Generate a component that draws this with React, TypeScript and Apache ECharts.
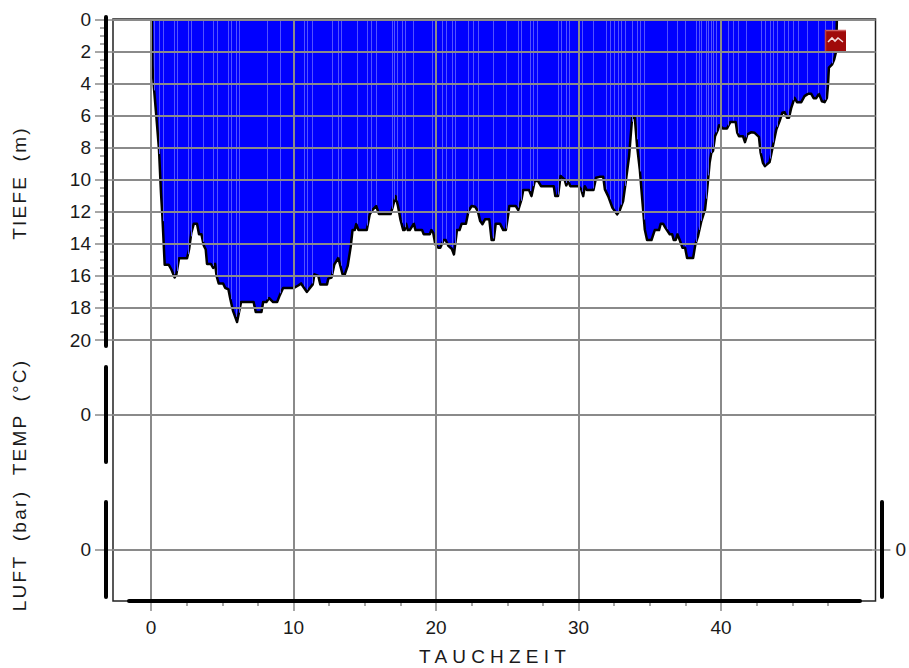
import React, { useEffect, useRef } from "react";
import * as echarts from "echarts";

const times = [0.05,0.1,0.2,0.37,0.56,0.7,0.8,0.96,1.24,1.43,1.66,1.78,1.97,2.53,2.67,2.83,3.0,3.23,3.37,3.54,3.7,3.84,3.93,4.2,4.36,4.5,4.6,4.75,5.06,5.2,5.43,5.57,5.76,6.04,6.32,7.2,7.35,7.75,7.87,8.1,8.29,8.57,8.85,9.04,9.27,10,10.33,10.53,10.93,11.35,11.47,11.74,11.88,12.35,12.44,12.67,12.86,13.14,13.44,13.6,13.8,14.02,14.14,14.3,14.4,14.56,15.14,15.35,15.53,15.8,16,16.81,16.98,17.16,17.33,17.5,17.7,17.8,17.9,18.02,18.16,18.44,18.56,19.02,19.14,19.56,19.67,19.8,19.95,20.16,20.3,20.53,20.67,20.88,21.1,21.26,21.47,21.65,21.8,22.1,22.28,22.5,22.74,22.93,23.1,23.26,23.44,23.74,23.9,24.05,24.19,24.49,24.72,24.9,25.07,25.14,25.6,25.77,26,26.12,26.53,26.7,26.93,27.16,27.37,28.26,28.37,28.56,28.74,29.02,29.14,29.28,29.42,30,30.19,30.33,30.44,30.58,31.05,31.23,31.47,31.73,31.85,32.08,32.38,32.71,32.9,33.13,33.32,33.55,33.76,33.95,34.11,34.3,34.53,34.65,34.81,35.12,35.35,35.65,35.77,35.93,36.1,36.4,36.57,36.68,36.82,36.94,37.1,37.29,37.48,37.62,38.04,38.2,38.39,38.62,38.88,39.02,39.2,39.32,39.44,39.58,39.79,39.86,40.14,40.42,40.65,41.03,41.14,41.26,41.54,41.68,41.85,42.13,42.36,42.66,42.78,42.94,43.08,43.41,43.64,43.88,44.11,44.3,44.46,44.63,44.77,44.93,45.16,45.33,45.63,45.86,46.1,46.33,46.5,46.68,46.87,47.08,47.27,47.43,47.5,47.57,47.8,47.94,48.08,48.13];
const depths = [0,2.9,4.2,6.0,8.1,10.8,12.3,15.3,15.3,15.6,16.1,15.9,14.9,14.9,14.35,13.3,12.75,12.75,13.4,13.4,14.1,14.35,15.25,15.25,15.5,15.25,16.0,16.47,16.47,16.74,16.84,17.46,18.2,18.88,17.63,17.63,18.25,18.25,17.63,17.63,17.38,17.63,17.63,17.2,16.76,16.76,16.6,16.47,17.0,16.53,15.9,16.0,16.53,16.53,16.17,16.1,15.3,14.87,15.9,15.9,15.38,14.14,13.14,13.14,12.77,13.14,13.14,12.16,11.9,11.64,12.14,12.14,11.64,11.02,11.64,12.47,13.14,13.14,12.74,13.14,13.14,12.74,13.14,13.14,13.4,13.4,13.14,13.3,14.03,14.24,14.24,13.76,13.76,14.14,14.3,14.66,13.14,13.14,12.74,12.74,11.95,11.64,11.68,11.95,12.58,12.77,12.47,12.47,13.76,13.76,12.74,12.74,13.14,13.14,12.16,11.64,11.64,11.9,11.23,10.64,10.64,11.02,10.08,10.08,10.4,10.4,11.02,11.02,9.77,9.98,10.35,10.08,10.4,10.4,10.6,11.02,10.4,10.64,10.64,9.88,9.82,9.81,10.6,11.02,11.75,12.16,11.9,11.33,10.08,8.52,6.13,6.13,7.9,9.36,11.85,13.1,13.76,13.76,13.14,13.14,12.74,12.74,13.0,13.4,13.4,13.76,13.76,13.4,13.76,14.24,14.24,14.89,14.89,14.03,13.5,12.58,11.85,10.7,8.94,8.32,8.2,7.28,6.86,6.6,6.8,6.8,6.4,6.4,7.07,7.28,7.28,7.65,7.17,7.03,7.07,7.32,8.32,8.94,9.15,8.9,7.9,6.86,6.34,5.82,5.78,6.13,6.13,5.51,4.89,5.16,5.16,4.78,4.64,4.64,4.91,4.91,4.64,5.1,5.16,4.89,4.16,3.01,2.8,2.5,1.98,0];
const stripeTimes = [0.23,0.58,0.82,1.61,1.8,2.57,2.78,3.67,4.37,4.61,5.38,5.59,5.94,6.15,8.16,9.05,10.74,10.97,11.32,12.7,13.1,13.31,14.43,15.18,15.41,15.77,16.89,17.07,17.26,17.59,17.82,18.41,19.7,20.4,20.68,21.1,21.33,22.22,22.62,22.97,24.03,24.89,25.73,25.94,26.6,26.83,27.11,28.54,28.77,29.12,29.35,30.27,31.04,31.9,32.2,32.49,32.77,33.0,33.26,33.73,34.08,34.32,34.6,36.23,36.93,37.47,38.22,38.46,38.6,38.95,39.11,39.3,39.46,39.65,40.47,40.86,41.21,41.75,42.81,43.09,43.44,43.67,43.91,44.42,44.72,45.07,45.42,46.05,46.83,47.3,47.77];
const xMajorTicks = [0,10,20,30,40];
const xMinorTicks = [2.5,5,7.5,12.5,15,17.5,22.5,25,27.5,32.5,35,37.5,42.5,45,47.5];
const zeroTick = [0];

const X_MIN = -2.667;
const X_MAX = 50.84;
const GRID_L = 113;
const GRID_W = 762.5;
const GRAY = "#8a8a8a";
const FONT = "Liberation Sans";
const LABEL_SIZE = 19;

function depthAt(t: number): number {
  for (let i = 1; i < times.length; i++) {
    if (t <= times[i]) {
      const f = (t - times[i - 1]) / (times[i] - times[i - 1]);
      return depths[i - 1] + f * (depths[i] - depths[i - 1]);
    }
  }
  return 0;
}

const hiddenX = (gridIndex: number) => ({ type: "value", gridIndex, min: X_MIN, max: X_MAX, show: false });
const hiddenY = (gridIndex: number) => ({ type: "value", gridIndex, min: -1, max: 1, show: false });
const thickLine = { show: true, onZero: false, lineStyle: { color: "#000", width: 4, cap: "round" } };
const noLine = { show: false, onZero: false };

const blockGrid = (top: number, height: number) => ({ left: GRID_L, width: GRID_W, top, height, show: false });

const zeroAxis = (gridIndex: number, position: string) => ({
  type: "value", gridIndex, position, min: -1, max: 1, z: 4,
  axisLine: noLine,
  axisTick: { show: true, length: 18, customValues: zeroTick, lineStyle: { color: GRAY, width: 1.5 } },
  axisLabel: { show: true, customValues: zeroTick, margin: position === "left" ? 22 : 23, color: "#1a1a1a", fontSize: LABEL_SIZE, fontFamily: FONT },
  splitLine: { show: position === "left", lineStyle: { color: GRAY, width: 2 } },
});
const lineAxis = (gridIndex: number, position: string) => ({
  type: "value", gridIndex, position, min: -1, max: 1, offset: position === "left" ? 7.5 : 9, z: 5,
  axisLine: thickLine,
  axisTick: { show: false }, axisLabel: { show: false }, splitLine: { show: false },
});

const titleFont = `19px '${FONT}'`;

const option: any = {
  animation: false,
  backgroundColor: "#fff",
  grid: [
    { left: GRID_L, width: GRID_W, top: 19.5, height: 320.5, show: false },
    { left: GRID_L, width: GRID_W, top: 19, height: 582, show: true, borderColor: "#222", borderWidth: 1.5, z: 1 },
    { left: 129, width: 731, top: 19, height: 582, show: false },
    blockGrid(17, 329),
    blockGrid(367, 95),
    blockGrid(502, 95),
  ],
  xAxis: [
    hiddenX(0),
    {
      type: "value", gridIndex: 1, position: "bottom", min: X_MIN, max: X_MAX, z: 4,
      axisLine: noLine,
      axisTick: { show: true, length: 10, customValues: xMajorTicks, lineStyle: { color: GRAY, width: 1.5 } },
      axisLabel: { show: true, customValues: xMajorTicks, margin: 17, color: "#1a1a1a", fontSize: LABEL_SIZE, fontFamily: FONT },
      splitLine: { show: true, lineStyle: { color: GRAY, width: 2 } },
    },
    {
      type: "value", gridIndex: 1, position: "bottom", min: X_MIN, max: X_MAX, z: 4,
      axisLine: noLine,
      axisTick: { show: true, length: 5, customValues: xMinorTicks, lineStyle: { color: GRAY, width: 1.5 } },
      axisLabel: { show: false }, splitLine: { show: false },
    },
    {
      type: "value", gridIndex: 2, position: "bottom", min: 0, max: 1, z: 5,
      axisLine: { show: true, onZero: false, lineStyle: { color: "#000", width: 4 } },
      axisTick: { show: false }, axisLabel: { show: false }, splitLine: { show: false },
    },
    hiddenX(3), hiddenX(4), hiddenX(5),
  ],
  yAxis: [
    {
      type: "value", gridIndex: 0, position: "left", min: 0, max: 20, interval: 2, inverse: true, z: 4,
      axisLine: noLine,
      axisTick: { show: true, length: 18, lineStyle: { color: GRAY, width: 1.5 } },
      axisLabel: { show: true, margin: 22, color: "#1a1a1a", fontSize: LABEL_SIZE, fontFamily: FONT },
      splitLine: { show: true, lineStyle: { color: GRAY, width: 2 } },
    },
    {
      type: "value", gridIndex: 0, position: "left", min: 0, max: 20, interval: 2, inverse: true, offset: 8, z: 4,
      axisLine: noLine,
      axisTick: { show: false },
      minorTick: { show: true, splitNumber: 4, length: 5, lineStyle: { color: GRAY, width: 1.5 } },
      axisLabel: { show: false }, splitLine: { show: false },
    },
    hiddenY(1),
    hiddenY(2),
    lineAxis(3, "left"),
    zeroAxis(4, "left"),
    lineAxis(4, "left"),
    zeroAxis(5, "left"),
    lineAxis(5, "left"),
    zeroAxis(5, "right"),
    lineAxis(5, "right"),
  ],
  series: [
    {
      type: "line", xAxisIndex: 0, yAxisIndex: 0, z: 2, symbol: "none", silent: true, clip: false,
      data: times.map((t, i) => [t, depths[i]]),
      lineStyle: { color: "#000", width: 2.5, join: "round" },
      areaStyle: { color: "#0000ff", opacity: 1 },
    },
    {
      type: "custom", xAxisIndex: 0, yAxisIndex: 0, z: 3, silent: true,
      data: stripeTimes.map((t) => [t]),
      encode: { x: 0 },
      renderItem: (_p: any, api: any) => {
        const t = api.value(0);
        const a = api.coord([t, 0]);
        const b = api.coord([t, depthAt(t)]);
        const x = Math.round(a[0]) + 0.5;
        return {
          type: "line",
          shape: { x1: x, y1: a[1], x2: x, y2: b[1] - 1.5 },
          style: { stroke: "#5252ff", lineWidth: 1 },
        };
      },
    },
  ],
  graphic: [
    { type: "text", rotation: Math.PI / 2, x: 19, y: 183, z: 10, style: { text: "TIEFE (m)", fill: "#1a1a1a", font: titleFont, align: "center", verticalAlign: "middle" } },
    { type: "text", rotation: Math.PI / 2, x: 19, y: 417, z: 10, style: { text: "TEMP (°C)", fill: "#1a1a1a", font: titleFont, align: "center", verticalAlign: "middle" } },
    { type: "text", rotation: Math.PI / 2, x: 19, y: 550.5, z: 10, style: { text: "LUFT (bar)", fill: "#1a1a1a", font: titleFont, align: "center", verticalAlign: "middle" } },
    { type: "text", x: 495, y: 656, z: 10, style: { text: "TAUCHZEIT", fill: "#1a1a1a", font: titleFont, align: "center", verticalAlign: "middle" } },
    {
      type: "group", x: 825, y: 30, children: [
        { type: "rect", z: 20, shape: { x: 0, y: 0, width: 21, height: 21 }, style: { fill: "#a00a0a" } },
        { type: "polyline", z: 21, shape: { points: [[0, 0.5], [21, 0.5]] }, style: { stroke: "#d06060", lineWidth: 1.5 } },
        { type: "polyline", z: 21, shape: { points: [[0.5, 0], [0.5, 21]] }, style: { stroke: "#c04040", lineWidth: 1.5 } },
        { type: "polyline", z: 21, shape: { points: [[3, 12], [7, 8], [10, 11], [13, 8], [18, 12]] }, style: { stroke: "#f4dcdc", lineWidth: 1.6, fill: "none" } },
      ],
    },
  ],
};

const SPACING: Record<string, [string, string]> = {
  "TIEFE (m)": ["2.2px", "6px"],
  "TEMP (°C)": ["2.2px", "5px"],
  "LUFT (bar)": ["2.3px", "6px"],
  "TAUCHZEIT": ["5.2px", "0"],
};

export default function App() {
  const ref = useRef<HTMLDivElement>(null);
  useEffect(() => {
    if (!ref.current) return;
    const chart = echarts.init(ref.current, undefined, { renderer: "svg" });
    chart.setOption(option);
    ref.current.querySelectorAll("text").forEach((el) => {
      const sp = SPACING[(el.textContent || "").trim()];
      if (sp) {
        (el as any).style.letterSpacing = sp[0];
        (el as any).style.wordSpacing = sp[1];
      }
    });
    return () => chart.dispose();
  }, []);
  return <div ref={ref} style={{ position: "absolute", left: 0, top: 0, width: 909, height: 668 }} />;
}
